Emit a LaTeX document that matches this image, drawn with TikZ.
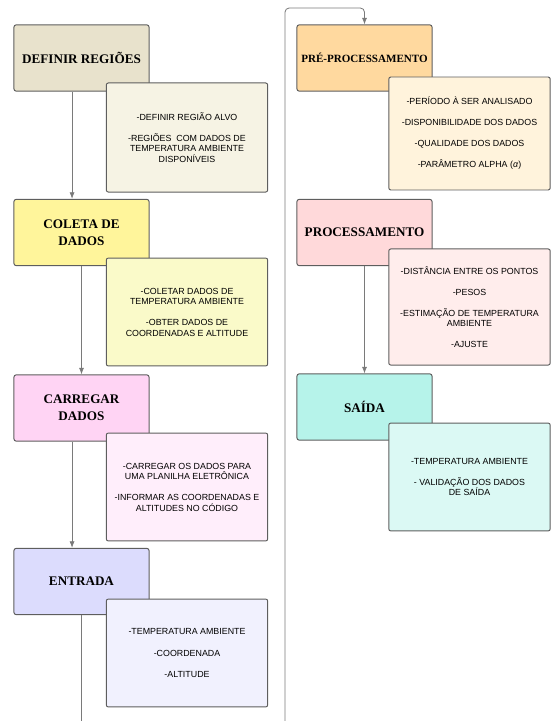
\documentclass[tikz,border=0pt]{standalone}
\usepackage{fontspec}
\setmainfont{Liberation Serif}
\setsansfont{Liberation Sans}
\usepackage{xcolor}
\usetikzlibrary{arrows.meta,positioning,calc}

\definecolor{borda}{HTML}{5E5E5E}
\definecolor{seta}{HTML}{7A7A7A}
\definecolor{cDefinir}{HTML}{E8E2CC}
\definecolor{tDefinir}{HTML}{F6F3E4}
\definecolor{cColeta}{HTML}{FFF59B}
\definecolor{tColeta}{HTML}{FAFAC9}
\definecolor{cCarregar}{HTML}{FFD4F4}
\definecolor{tCarregar}{HTML}{FFEEFB}
\definecolor{cEntrada}{HTML}{DCDCFD}
\definecolor{tEntrada}{HTML}{F1F1FE}
\definecolor{cPre}{HTML}{FFD99F}
\definecolor{tPre}{HTML}{FFF3DC}
\definecolor{cProc}{HTML}{FFD9DA}
\definecolor{tProc}{HTML}{FFEDEC}
\definecolor{cSaida}{HTML}{B6F3EA}
\definecolor{tSaida}{HTML}{DBF9F4}

\begin{document}
\begin{tikzpicture}[
    x=0.254mm, y=-0.254mm,
    etapa/.style={draw=borda, line width=0.7pt, rounded corners=1.5pt, minimum width=3.43cm, minimum height=1.68cm, inner xsep=1pt, align=center, font=\fontsize{9.5}{12.2}\selectfont\bfseries},
    detalhe/.style={draw=borda, line width=0.7pt, rounded corners=1.5pt, minimum width=4.1cm, align=center, font=\sffamily\fontsize{6.4}{7.6}\selectfont},
    arr/.style={-{Latex[length=1.7mm, width=1.3mm]}, seta, line width=0.6pt},
    linha/.style={seta, line width=0.6pt},
]
    \useasboundingbox (0,0) rectangle (551,721);

    % coluna da esquerda
    \node[etapa, fill=cDefinir] (definir) at (81.5, 58) {DEFINIR REGIÕES};
    \node[detalhe, fill=tDefinir, minimum height=2.77cm] (definirTxt) at (187, 137.5) {-DEFINIR REGIÃO ALVO\\[7.6pt]-REGIÕES \ COM DADOS DE\\TEMPERATURA AMBIENTE\\DISPONÍVEIS};

    \node[etapa, fill=cColeta] (coleta) at (81.5, 232.5) {COLETA DE\\DADOS};
    \node[detalhe, fill=tColeta, minimum height=2.74cm] (coletaTxt) at (187, 312) {-COLETAR DADOS DE\\TEMPERATURA AMBIENTE\\[7.6pt]-OBTER DADOS DE\\COORDENADAS E ALTITUDE};

    \node[etapa, fill=cCarregar] (carregar) at (81.5, 408) {CARREGAR\\DADOS};
    \node[detalhe, fill=tCarregar, minimum height=2.74cm] (carregarTxt) at (187, 487) {-CARREGAR OS DADOS PARA\\UMA PLANILHA ELETRÔNICA\\[7.6pt]-INFORMAR AS COORDENADAS E\\ALTITUDES NO CÓDIGO};

    \node[etapa, fill=cEntrada] (entrada) at (81.5, 581.5) {ENTRADA};
    \node[detalhe, fill=tEntrada, minimum height=2.74cm] (entradaTxt) at (187, 653) {-TEMPERATURA AMBIENTE\\[7.6pt]-COORDENADA\\[7.6pt]-ALTITUDE};

    % coluna da direita
    \node[etapa, fill=cPre, font=\fontsize{8}{10}\selectfont\bfseries] (preproc) at (364.5, 58) {PRÉ-PROCESSAMENTO};
    \node[detalhe, fill=tPre, minimum height=2.87cm] (preprocTxt) at (469.5, 133.5) {-PERÍODO À SER ANALISADO\\[7.6pt]-DISPONIBILIDADE DOS DADOS\\[7.6pt]-QUALIDADE DOS DADOS\\[7.6pt]-PARÂMETRO ALPHA (\textit{α})};

    \node[etapa, fill=cProc] (proc) at (364.5, 232.5) {PROCESSAMENTO};
    \node[detalhe, fill=tProc, minimum height=2.95cm] (procTxt) at (469.5, 307) {-DISTÂNCIA ENTRE OS PONTOS\\[7.6pt]-PESOS\\[7.6pt]-ESTIMAÇÃO DE TEMPERATURA\\AMBIENTE\\[7.6pt]-AJUSTE};

    \node[etapa, fill=cSaida] (saida) at (364.5, 407) {SAÍDA};
    \node[detalhe, fill=tSaida, minimum height=2.74cm] (saidaTxt) at (469.5, 477) {-TEMPERATURA AMBIENTE\\[7.6pt]- VALIDAÇÃO DOS DADOS\\DE SAÍDA};

    \coordinate (baseEsq) at (82, 721);
    \coordinate (baseDir) at (285, 721);
    \coordinate (topo) at (285, 8);

    % conexoes
    \draw[arr] ([xshift=-2.4mm]definir.south) -- ([xshift=-2.4mm]coleta.north);
    \draw[arr] (coleta.south) -- (carregar.north);
    \draw[arr] ([xshift=-2.4mm]carregar.south) -- ([xshift=-2.4mm]entrada.north);
    \draw[linha] (entrada.south) -- (entrada.south |- baseEsq);
    \draw[arr, rounded corners=3pt] (baseDir) -- (topo) -| (preproc.north);
    \draw[arr] (proc.south) -- (saida.north);
\end{tikzpicture}
\end{document}
